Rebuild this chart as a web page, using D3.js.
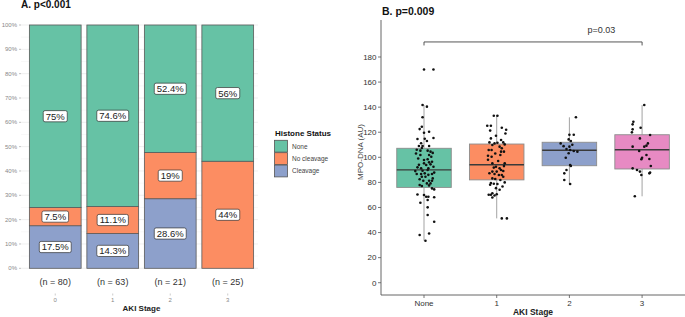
<!DOCTYPE html>
<html>
<head>
<meta charset="utf-8">
<script src="https://cdn.jsdelivr.net/npm/d3@7"></script>
<style>
  body { margin: 0; background: #fff; }
  svg { font-family: "Liberation Sans", Arial, sans-serif; }
</style>
</head>
<body>
<svg id="chart" width="685" height="317"></svg>
<script>
// ---- panel A data
var stages = ["0", "1", "2", "3"];
var stageN = [80, 63, 21, 25];
var statusKeys = ["Cleavage", "No cleavage", "None"];   // bottom -> top
var pctCleavage = [17.5, 14.3, 28.6, 0];
var pctNoCleavage = [7.5, 11.1, 19, 44];
var pctNone = [75, 74.6, 52.4, 56];
var legendOrder = ["None", "No cleavage", "Cleavage"];
var pctTicks = [0, 10, 20, 30, 40, 50, 60, 70, 80, 90, 100];

// ---- panel B data
var groups = ["None", "1", "2", "3"];
var whiskerLow = [33.5, 51.3, 78.7, 68.9];
var q1 = [76, 82, 93.3, 90.7];
var med = [90, 94.1, 105.6, 106];
var q3 = [107.2, 110.6, 112, 118];
var whiskerHigh = [141.7, 133.4, 131.9, 141.7];
var mpoTicks = [0, 20, 40, 60, 80, 100, 120, 140, 160, 180];
// [jitter in category units, MPO-DNA value]
var dotsNone = [[0.00,170],[0.13,170],[-0.02,141.7],[0.04,140.4],[-0.02,132],[-0.03,124.4],[-0.06,122.5],[0.07,120.4],[0.00,119.6],[-0.09,114.6],[0.13,115.4],[0.01,114.8],[-0.04,111.2],[0.04,113],[-0.07,109],[0.07,109],[-0.02,109],[-0.03,107.4],
  [-0.05,105.3],[0.05,105.3],[0.09,104.5],[0.07,101.8],[0.10,100.5],[-0.05,101.8],[0.00,97.8],[0.05,98.4],[0.07,96],[0.00,95.2],[0.03,93.9],[0.09,94.4],
  [-0.09,92],[-0.04,91.2],[0.06,91.2],[0.13,92.5],[-0.02,89.3],[0.05,89.9],[0.14,87.8],[-0.10,86.7],[-0.04,86.7],[0.01,87.2],[0.11,86.7],[-0.03,84.5],
  [0.02,84.5],[0.12,83.2],[-0.01,81.3],[0.07,81.3],[0.11,81.3],[0.04,79.2],[0.09,79.2],[-0.06,77.9],[-0.03,77.1],[0.07,77.6],[0.11,75.2],[0.14,74.4],
  [-0.09,70.4],[0.00,69.9],[0.03,68.6],[0.06,68.6],[0.14,68.1],[0.05,66],[-0.05,63.8],[0.05,60.1],[0.05,54],[0.14,48.6],[-0.06,38],[0.07,39.3],[0.02,33.5],
  [-0.11,103],[-0.08,99],[0.11,96.5],[-0.07,94],[-0.12,89],[0.06,86],[-0.06,82.5],[0.12,103.5],[-0.10,106]];
var dots1 = [[-0.04,133.2],[0.01,133.2],[-0.13,125.2],[-0.08,125.2],[0.07,123.6],[-0.09,121.3],[-0.01,117.2],[-0.08,115.1],[0.06,113.8],[-0.10,111.9],
  [-0.03,111.1],[0.01,111.6],[0.09,111.9],[0.11,110.3],[-0.06,109.8],[0.04,108.5],[0.07,107.2],[-0.11,105.8],[-0.07,105.8],[0.06,104.5],[0.10,104.5],
  [-0.12,101.3],[-0.07,100.5],[0.05,101.9],[-0.06,95.2],[0.11,95.2],[-0.01,92.5],[-0.04,91.8],[0.04,91.2],[0.06,89.9],[-0.06,88.6],[0.00,88.6],[0.09,89.1],
  [-0.10,87.3],[-0.03,86.7],[0.03,85.9],[0.07,85.9],[-0.06,83.2],[0.09,84.5],[-0.02,82.7],[0.05,81.9],[-0.08,79.5],[-0.04,78.9],[-0.09,78.1],[0.01,78.7],
  [0.11,80],[0.08,76.7],[-0.01,75.4],[0.04,74.1],[-0.06,71.4],[-0.11,70.1],[-0.08,70.1],[-0.03,69.6],[0.00,70.6],[-0.06,68],[0.07,51.3],[0.14,51.3],
  [0.12,119],[-0.12,98],[0.02,97],[0.10,93],[-0.02,103],[0.13,122]];
var dots2 = [[0.09,131.9],[0.00,118],[0.06,118],[-0.01,114.3],[0.02,113],[-0.12,111.1],[-0.08,108.9],[0.00,108.5],[-0.04,106.6],[0.01,105.8],[0.06,105],
  [0.11,104.5],[-0.01,103.2],[-0.05,99.7],[0.01,93.9],[0.02,93.1],[-0.04,89.9],[-0.07,87.2],[-0.07,81.9],[0.01,78.7],[0.04,110]];
var dots3 = [[0.03,141.7],[-0.12,128.4],[-0.13,126.3],[-0.02,123.6],[-0.13,122.3],[-0.14,119.9],[0.11,117.8],[-0.03,115.1],[0.08,111.1],[0.06,109.3],
  [-0.13,108.5],[0.03,108.5],[-0.04,105],[0.06,101.9],[0.00,99.7],[0.10,98.7],[-0.01,98.4],[0.12,93.1],[-0.13,91.2],[-0.07,89.9],[-0.03,88.6],
  [-0.01,85.9],[0.10,87.2],[0.11,87.8],[-0.10,68.9]];
var allDots = [dotsNone, dots1, dots2, dots3];
var sigText = "p=0.03";
var sigPos = 2.44;      // category position of the p label
var sigLevel = 192;

var svg = d3.select("#chart");

// ================= Panel A =================
var statusColor = d3.scaleOrdinal()
  .domain(["None", "No cleavage", "Cleavage"])
  .range(["#66c2a5", "#fc8d62", "#8da0cb"]);

var xA = d3.scaleBand().domain(stages).range([26.5, 256.5]).paddingInner(0.1).paddingOuter(0.05);
var yA = d3.scaleLinear().domain([0, 100]).range([268.3, 25]);

var gA = svg.append("g");

// grid
gA.selectAll("line.minor")
  .data(d3.range(5, 100, 10))
  .enter().append("line")
  .attr("x1", 21).attr("x2", 258)
  .attr("y1", function(d) { return yA(d); }).attr("y2", function(d) { return yA(d); })
  .attr("stroke", "#f3f3f3").attr("stroke-width", 0.6);
gA.selectAll("line.major")
  .data(pctTicks)
  .enter().append("line")
  .attr("x1", 21).attr("x2", 258)
  .attr("y1", function(d) { return yA(d); }).attr("y2", function(d) { return yA(d); })
  .attr("stroke", "#ebebeb").attr("stroke-width", 0.8);

// y tick labels
gA.selectAll("text.ytick")
  .data(pctTicks)
  .enter().append("text")
  .attr("x", 17).attr("y", function(d) { return yA(d) + 2; })
  .attr("text-anchor", "end")
  .attr("font-size", 6).attr("fill", "#888")
  .text(function(d) { return d + "%"; });
gA.selectAll("line.ytk")
  .data(pctTicks)
  .enter().append("line")
  .attr("x1", 19).attr("x2", 21)
  .attr("y1", function(d) { return yA(d); }).attr("y2", function(d) { return yA(d); })
  .attr("stroke", "#999").attr("stroke-width", 0.6);

var rowsA = stages.map(function(s, i) {
  return { stage: s, "Cleavage": pctCleavage[i], "No cleavage": pctNoCleavage[i], "None": pctNone[i] };
});
var stacked = d3.stack().keys(statusKeys)(rowsA);

var layer = gA.selectAll("g.layer")
  .data(stacked)
  .enter().append("g")
  .attr("fill", function(d) { return statusColor(d.key); });

layer.selectAll("rect")
  .data(function(d) { return d; })
  .enter().append("rect")
  .attr("x", function(d) { return xA(d.data.stage); })
  .attr("width", xA.bandwidth())
  .attr("y", function(d) { return yA(d[1]); })
  .attr("height", function(d) { return yA(d[0]) - yA(d[1]); })
  .attr("stroke", "#5a5a5a").attr("stroke-width", 0.8);

// labels
var labelData = [];
stacked.forEach(function(s) {
  s.forEach(function(d) {
    var v = d[1] - d[0];
    if (v > 0) labelData.push({ stage: d.data.stage, mid: (d[0] + d[1]) / 2, txt: (+v.toFixed(1)) + "%" });
  });
});
var lab = gA.selectAll("g.lab")
  .data(labelData)
  .enter().append("g")
  .attr("transform", function(d) {
    return "translate(" + (xA(d.stage) + xA.bandwidth() / 2) + "," + yA(d.mid) + ")";
  });
lab.append("text")
  .attr("text-anchor", "middle").attr("y", 3.4)
  .attr("font-size", 9.5).attr("fill", "#222")
  .text(function(d) { return d.txt; });
lab.insert("rect", "text")
  .each(function() {
    var t = d3.select(this.parentNode).select("text").node();
    var w = t.getComputedTextLength() + 5;
    d3.select(this).attr("x", -w / 2).attr("width", w);
  })
  .attr("y", -5.6).attr("height", 11.2)
  .attr("rx", 1.8)
  .attr("fill", "#fff").attr("stroke", "#333").attr("stroke-width", 0.7);

// n labels and x ticks
gA.selectAll("text.n")
  .data(stages)
  .enter().append("text")
  .attr("x", function(d) { return xA(d) + xA.bandwidth() / 2; })
  .attr("y", 285)
  .attr("text-anchor", "middle").attr("font-size", 9).attr("fill", "#333")
  .text(function(d, i) { return "(n = " + stageN[i] + ")"; });
gA.selectAll("line.xtk")
  .data(stages)
  .enter().append("line")
  .attr("x1", function(d) { return xA(d) + xA.bandwidth() / 2; })
  .attr("x2", function(d) { return xA(d) + xA.bandwidth() / 2; })
  .attr("y1", 293.5).attr("y2", 295.5)
  .attr("stroke", "#aaa").attr("stroke-width", 0.6);
gA.selectAll("text.xtick")
  .data(stages)
  .enter().append("text")
  .attr("x", function(d) { return xA(d) + xA.bandwidth() / 2; })
  .attr("y", 302)
  .attr("text-anchor", "middle").attr("font-size", 6).attr("fill", "#888")
  .text(function(d) { return d; });
gA.append("text")
  .attr("x", 141.5).attr("y", 311)
  .attr("text-anchor", "middle").attr("font-size", 8).attr("font-weight", "bold").attr("fill", "#222")
  .text("AKI Stage");

gA.append("text")
  .attr("x", 21).attr("y", 8.2)
  .attr("font-size", 10).attr("font-weight", "bold").attr("fill", "#111")
  .text("A. p<0.001");

// legend
var leg = svg.append("g").attr("transform", "translate(274,140)");
leg.append("text").attr("x", 1).attr("y", -4)
  .attr("font-size", 8).attr("font-weight", "bold").attr("fill", "#111")
  .text("Histone Status");
var li = leg.selectAll("g.li")
  .data(legendOrder)
  .enter().append("g")
  .attr("transform", function(d, i) { return "translate(0," + (i * 12.4) + ")"; });
li.append("rect")
  .attr("x", 0.5).attr("y", 0.3).attr("width", 13).attr("height", 11.8)
  .attr("fill", function(d) { return statusColor(d); })
  .attr("stroke", "#555").attr("stroke-width", 0.8);
li.append("text")
  .attr("x", 18).attr("y", 8.5)
  .attr("font-size", 6.5).attr("fill", "#444")
  .text(function(d) { return d; });

// ================= Panel B =================
var groupColor = d3.scaleOrdinal().domain(groups).range(["#66c2a5", "#fc8d62", "#8da0cb", "#e78ac3"]);
var xB = d3.scalePoint().domain(groups).range([380.4, 685.7]).padding(0.6);
var stepB = xB.step();
var yB = d3.scaleLinear().domain([-9.8, 209.5]).range([295, 20]);
var boxW = stepB * 0.75;

var gB = svg.append("g");

// axes
gB.append("line").attr("x1", 381).attr("x2", 381).attr("y1", 20).attr("y2", 295)
  .attr("stroke", "#555").attr("stroke-width", 0.9);
gB.append("line").attr("x1", 381).attr("x2", 685).attr("y1", 295).attr("y2", 295)
  .attr("stroke", "#555").attr("stroke-width", 0.9);

gB.selectAll("line.ytk")
  .data(mpoTicks)
  .enter().append("line")
  .attr("x1", 378).attr("x2", 381)
  .attr("y1", function(d) { return yB(d); }).attr("y2", function(d) { return yB(d); })
  .attr("stroke", "#555").attr("stroke-width", 0.8);
gB.selectAll("text.ytick")
  .data(mpoTicks)
  .enter().append("text")
  .attr("x", 376.5).attr("y", function(d) { return yB(d) + 2.8; })
  .attr("text-anchor", "end").attr("font-size", 8).attr("fill", "#333")
  .text(function(d) { return d; });
gB.selectAll("line.xtk")
  .data(groups)
  .enter().append("line")
  .attr("x1", function(d) { return xB(d); }).attr("x2", function(d) { return xB(d); })
  .attr("y1", 295).attr("y2", 298)
  .attr("stroke", "#555").attr("stroke-width", 0.8);
gB.selectAll("text.xtick")
  .data(groups)
  .enter().append("text")
  .attr("x", function(d) { return xB(d); }).attr("y", 305.5)
  .attr("text-anchor", "middle").attr("font-size", 8).attr("fill", "#333")
  .text(function(d) { return d; });
gB.append("text")
  .attr("x", 533).attr("y", 315)
  .attr("text-anchor", "middle").attr("font-size", 8.5).attr("font-weight", "bold").attr("fill", "#222")
  .text("AKI Stage");
gB.append("text")
  .attr("transform", "translate(363,152) rotate(-90)")
  .attr("text-anchor", "middle").attr("font-size", 8).attr("fill", "#444")
  .text("MPO-DNA (AU)");
gB.append("text")
  .attr("x", 382).attr("y", 15)
  .attr("font-size", 10.5).attr("font-weight", "bold").attr("fill", "#111")
  .text("B. p=0.009");

// boxes
var box = gB.selectAll("g.box")
  .data(groups)
  .enter().append("g");
box.append("line")
  .attr("x1", function(d) { return xB(d); }).attr("x2", function(d) { return xB(d); })
  .attr("y1", function(d, i) { return yB(whiskerHigh[i]); })
  .attr("y2", function(d, i) { return yB(q3[i]); })
  .attr("stroke", "#999").attr("stroke-width", 0.9);
box.append("line")
  .attr("x1", function(d) { return xB(d); }).attr("x2", function(d) { return xB(d); })
  .attr("y1", function(d, i) { return yB(q1[i]); })
  .attr("y2", function(d, i) { return yB(whiskerLow[i]); })
  .attr("stroke", "#999").attr("stroke-width", 0.9);
box.append("rect")
  .attr("x", function(d) { return xB(d) - boxW / 2; })
  .attr("width", boxW)
  .attr("y", function(d, i) { return yB(q3[i]); })
  .attr("height", function(d, i) { return yB(q1[i]) - yB(q3[i]); })
  .attr("fill", function(d) { return groupColor(d); })
  .attr("stroke", "#8c8c8c").attr("stroke-width", 0.9);
box.append("line")
  .attr("x1", function(d) { return xB(d) - boxW / 2; })
  .attr("x2", function(d) { return xB(d) + boxW / 2; })
  .attr("y1", function(d, i) { return yB(med[i]); })
  .attr("y2", function(d, i) { return yB(med[i]); })
  .attr("stroke", "#3a3a3a").attr("stroke-width", 1.4);

// points
groups.forEach(function(g, gi) {
  gB.selectAll("circle.g" + gi)
    .data(allDots[gi])
    .enter().append("circle")
    .attr("cx", function(d) { return xB(g) + d[0] * stepB; })
    .attr("cy", function(d) { return yB(d[1]); })
    .attr("r", 1.3)
    .attr("fill", "#111");
});

// significance bracket
var yS = yB(sigLevel);
gB.append("path")
  .attr("d", "M" + xB("None") + "," + (yS + 3.5) + "V" + yS + "H" + xB("3") + "V" + (yS + 3.5))
  .attr("fill", "none").attr("stroke", "#444").attr("stroke-width", 0.9);
gB.append("text")
  .attr("x", xB(groups[0]) + sigPos * stepB).attr("y", 33)
  .attr("text-anchor", "middle").attr("font-size", 9).attr("fill", "#333")
  .text(sigText);
</script>
</body>
</html>
